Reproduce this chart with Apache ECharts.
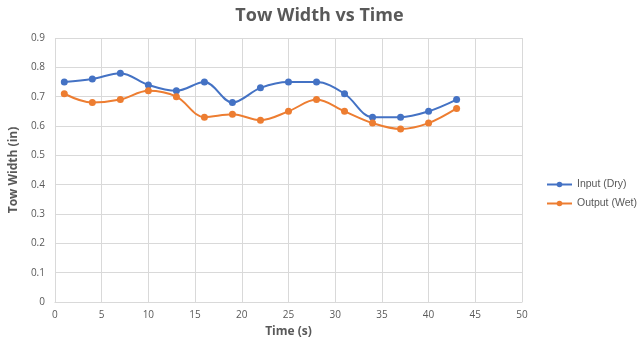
<!DOCTYPE html>
<html><head><meta charset="utf-8">
<script src="https://cdn.jsdelivr.net/npm/echarts@6/dist/echarts.min.js"></script>
<style>html,body{margin:0;padding:0;background:#fff}#c{width:639px;height:347px}</style>
</head><body><div id="c"></div>
<script>
const timeS = [1,4,7,10,13,16,19,22,25,28,31,34,37,40,43];
const inputDry = [0.75,0.76,0.78,0.74,0.72,0.75,0.68,0.73,0.75,0.75,0.71,0.63,0.63,0.65,0.69];
const outputWet = [0.71,0.68,0.69,0.72,0.70,0.63,0.64,0.62,0.65,0.69,0.65,0.61,0.59,0.61,0.66];
const seriesNames = ['Input (Dry)','Output (Wet)'];
const colors = ['#4472C4','#ED7D31'];
const font = '"Open Sans", "Liberation Sans", sans-serif';
const chart = echarts.init(document.getElementById('c'));
function pairs(v){return timeS.map((t,i)=>[t,v[i]]);}
chart.setOption({
  animation:false,
  title:{text:'Tow Width vs Time',left:'center',top:2,textStyle:{fontFamily:font,fontSize:18,fontWeight:'bold',color:'#595959'}},
  grid:{left:48,right:117,top:38,bottom:45},
  legend:{orient:'vertical',left:541,top:174,itemGap:8,itemWidth:25,itemHeight:7,
    textStyle:{fontFamily:'"Liberation Sans", sans-serif',fontSize:10.5,color:'#595959'},data:seriesNames},
  xAxis:{type:'value',min:0,max:50,interval:5,
    name:'Time (s)',nameLocation:'middle',nameGap:24,
    nameTextStyle:{fontFamily:font,fontSize:12,fontWeight:'bold',color:'#595959'},
    axisLine:{lineStyle:{color:'#d9d9d9'}},axisTick:{show:false},
    axisLabel:{fontFamily:font,fontSize:10,color:'#595959',margin:8},
    splitLine:{show:true,lineStyle:{color:'#d9d9d9'}}},
  yAxis:{type:'value',min:0,max:0.9,interval:0.1,
    name:'Tow Width (in)',nameLocation:'middle',nameGap:32,nameRotate:90,
    nameTextStyle:{fontFamily:font,fontSize:12,fontWeight:'bold',color:'#595959'},
    axisLine:{show:false},axisTick:{show:false},
    axisLabel:{fontFamily:font,fontSize:10,color:'#595959',margin:10,formatter:v=>String(+v.toFixed(1))},
    splitLine:{show:true,lineStyle:{color:'#d9d9d9'}}},
  series:[
    {name:seriesNames[0],type:'line',smooth:0.35,data:pairs(inputDry),symbol:'circle',symbolSize:7,
     lineStyle:{width:2,color:colors[0]},itemStyle:{color:colors[0]}},
    {name:seriesNames[1],type:'line',smooth:0.35,data:pairs(outputWet),symbol:'circle',symbolSize:7,
     lineStyle:{width:2,color:colors[1]},itemStyle:{color:colors[1]}}
  ]
});
</script></body></html>
